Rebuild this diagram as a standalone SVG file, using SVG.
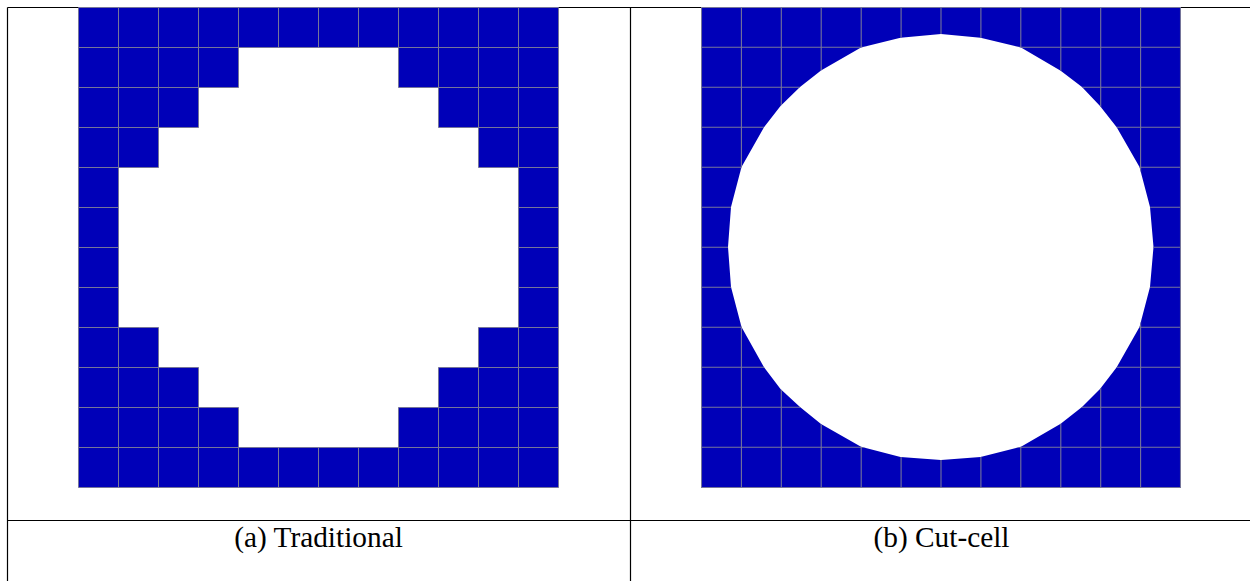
<svg xmlns="http://www.w3.org/2000/svg" width="1250" height="581" viewBox="0 0 1250 581">
<style>
.rule{stroke:#000;stroke-width:1.2;fill:none}
.cells{fill:#0000b8;stroke:#75759a;stroke-width:1}
.fill{fill:#0000b8;fill-rule:evenodd}
.grid{stroke:#75759a;stroke-width:1.1;fill:none}
.cap{font-family:"Liberation Serif","Times New Roman",serif;font-size:29.33px;fill:#000;text-anchor:middle}
</style>
<defs>
<clipPath id="hole"><path clip-rule="evenodd" d="M701 7H1181V488H701ZM941 34L980.500 37.700L1021 47.500L1060.700 70.700L1082 87L1100 106L1116.700 127.300L1139.500 167L1150 207L1153.500 247L1150 287L1139.500 327L1116.700 367.300L1100 389L1082 407L1060.700 423.700L1021 446.800L980.500 457L941 460L900.500 457L861 446.800L821 424L800 407L780.500 389L764 367.300L741.500 327L731 287L728 247L731 207L741.500 167L764 127.300L780.500 106L800 87L821 70.500L861 47.500L900.500 37.700Z"/></clipPath>
</defs>
<rect width="1250" height="581" fill="#fff"/>
<g id="table">
<path class="rule" d="M7.500 7.500H1250M7.500 7.500V581M630.500 7.500V581M7.500 520.500H1250"/>
</g>
<g id="panel-a">
<path class="cells" d="M78.500 7.500h40v40h-40zM118.500 7.500h40v40h-40zM158.500 7.500h40v40h-40zM198.500 7.500h40v40h-40zM238.500 7.500h40v40h-40zM278.500 7.500h40v40h-40zM318.500 7.500h40v40h-40zM358.500 7.500h40v40h-40zM398.500 7.500h40v40h-40zM438.500 7.500h40v40h-40zM478.500 7.500h40v40h-40zM518.500 7.500h40v40h-40z
M78.500 47.500h40v40h-40zM118.500 47.500h40v40h-40zM158.500 47.500h40v40h-40zM198.500 47.500h40v40h-40zM398.500 47.500h40v40h-40zM438.500 47.500h40v40h-40zM478.500 47.500h40v40h-40zM518.500 47.500h40v40h-40z
M78.500 87.500h40v40h-40zM118.500 87.500h40v40h-40zM158.500 87.500h40v40h-40zM438.500 87.500h40v40h-40zM478.500 87.500h40v40h-40zM518.500 87.500h40v40h-40z
M78.500 127.500h40v40h-40zM118.500 127.500h40v40h-40zM478.500 127.500h40v40h-40zM518.500 127.500h40v40h-40z
M78.500 167.500h40v40h-40zM518.500 167.500h40v40h-40zM78.500 207.500h40v40h-40zM518.500 207.500h40v40h-40zM78.500 247.500h40v40h-40zM518.500 247.500h40v40h-40zM78.500 287.500h40v40h-40zM518.500 287.500h40v40h-40z
M78.500 327.500h40v40h-40zM118.500 327.500h40v40h-40zM478.500 327.500h40v40h-40zM518.500 327.500h40v40h-40z
M78.500 367.500h40v40h-40zM118.500 367.500h40v40h-40zM158.500 367.500h40v40h-40zM438.500 367.500h40v40h-40zM478.500 367.500h40v40h-40zM518.500 367.500h40v40h-40z
M78.500 407.500h40v40h-40zM118.500 407.500h40v40h-40zM158.500 407.500h40v40h-40zM198.500 407.500h40v40h-40zM398.500 407.500h40v40h-40zM438.500 407.500h40v40h-40zM478.500 407.500h40v40h-40zM518.500 407.500h40v40h-40z
M78.500 447.500h40v40h-40zM118.500 447.500h40v40h-40zM158.500 447.500h40v40h-40zM198.500 447.500h40v40h-40zM238.500 447.500h40v40h-40zM278.500 447.500h40v40h-40zM318.500 447.500h40v40h-40zM358.500 447.500h40v40h-40zM398.500 447.500h40v40h-40zM438.500 447.500h40v40h-40zM478.500 447.500h40v40h-40zM518.500 447.500h40v40h-40z"/>
<text class="cap" x="318.500" y="547">(a) Traditional</text>
</g>
<g id="panel-b">
<path class="fill" d="M701 7H1181V488H701ZM941 34L980.500 37.700L1021 47.500L1060.700 70.700L1082 87L1100 106L1116.700 127.300L1139.500 167L1150 207L1153.500 247L1150 287L1139.500 327L1116.700 367.300L1100 389L1082 407L1060.700 423.700L1021 446.800L980.500 457L941 460L900.500 457L861 446.800L821 424L800 407L780.500 389L764 367.300L741.500 327L731 287L728 247L731 207L741.500 167L764 127.300L780.500 106L800 87L821 70.500L861 47.500L900.500 37.700Z"/>
<g clip-path="url(#hole)">
<path class="grid" d="M701.500 7V488M741.400 7V488M781.300 7V488M821.200 7V488M861.200 7V488M901.100 7V488M941 7V488M980.900 7V488M1020.800 7V488M1060.800 7V488M1100.700 7V488M1140.600 7V488M1180.500 7V488M701 7.500H1181M701 47.300H1181M701 87.300H1181M701 127.300H1181M701 167.300H1181M701 207.300H1181M701 247.300H1181M701 287.300H1181M701 327.300H1181M701 367.300H1181M701 407.300H1181M701 447.200H1181M701 487.500H1181"/>
</g>
<text class="cap" x="941.500" y="547">(b) Cut-cell</text>
</g>
</svg>
